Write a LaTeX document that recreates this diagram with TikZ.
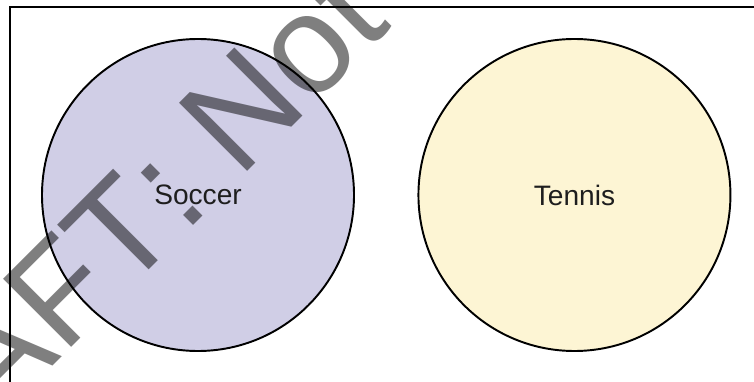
\documentclass[tikz,border=0pt]{standalone}
\usepackage{fontspec}
\setmainfont{Liberation Sans}
\newfontfamily\wmfont[Kerning=Off]{Liberation Sans}
\usepackage{xcolor}
\usetikzlibrary{positioning}

\definecolor{soccerfill}{RGB}{208,206,230}
\definecolor{tennisfill}{RGB}{253,245,212}
\definecolor{labeltext}{RGB}{30,30,30}

\begin{document}
\begin{tikzpicture}[
  font=\fontsize{16}{19}\selectfont,
  % Shape styles
  frame/.style={draw, line width=1.1pt},
  sport/.style={
    circle, draw, line width=1.1pt, inner sep=0pt,
    minimum size=6.24cm, align=center, text=labeltext
  },
  watermark/.style={
    font=\wmfont\fontsize{79.7}{84}\selectfont, text=black, text opacity=0.5,
    rotate=45, inner sep=0pt, anchor=base west
  }
]

% ── Canvas ───────────────────────────────────────────────────────────────────
\useasboundingbox (0,0) rectangle (15.08,7.62);
\clip (0,0) rectangle (15.08,7.62);

% ── Outer frame ──────────────────────────────────────────────────────────────
\draw[frame] (0.2,-1) rectangle (16,7.48);

% ── Sets ─────────────────────────────────────────────────────────────────────
\node[sport, fill=soccerfill] (soccer) at (3.96,3.72) {Soccer};
\node[sport, fill=tennisfill, right=1.25cm of soccer] (tennis) {Tennis};

% ── Watermark ────────────────────────────────────────────────────────────────
\node[watermark] (wm) at (-0.065,-0.825) {AFT: Not};

\end{tikzpicture}
\end{document}
